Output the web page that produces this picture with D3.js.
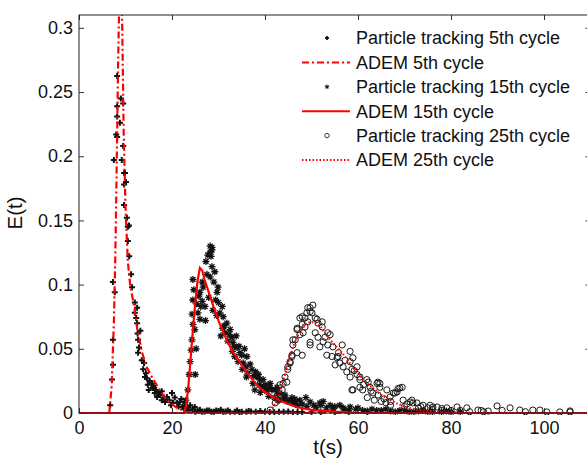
<!DOCTYPE html>
<html>
<head>
<meta charset="utf-8">
<script src="https://cdn.jsdelivr.net/npm/d3@7"></script>
<style>
body { margin: 0; background: #fff; }
text { font-family: Arial, "Liberation Sans", sans-serif; fill: #111; }
</style>
</head>
<body>
<script>
"use strict";

/* Data, [t (s), E(t)] */
var adem5 = [[0,0],[6.5,0],[7,0.02],[7.5,0.07],[7.8,0.12],[8.1,0.19],[8.4,0.27],[8.7,0.33],[9.0,0.35],
	[9.3,0.30],[9.6,0.22],[10.0,0.16],[10.5,0.118],[11,0.1],[12,0.08],[12.5,0.066],[13.5,0.048],
	[14.5,0.036],[16,0.026],[17.5,0.017],[19,0.01],[21,0.004],[23,0.001],[25,0],[110,0]];

var adem15 = [[0,0],[22.5,0],[23,0.005],[23.5,0.02],[24,0.042],[24.5,0.065],[25,0.086],[25.5,0.103],
	[26,0.113],[26.5,0.111],[27,0.104],[28,0.093],[29,0.082],[30,0.072],[31,0.063],[32,0.055],
	[33,0.048],[34.5,0.04],[36,0.032],[37.5,0.025],[39,0.019],[41,0.014],[43,0.01],[45,0.007],
	[47,0.0045],[50,0.0025],[55,0.001],[60,0],[110,0]];

var adem25 = [[0,0],[41,0],[42,0.006],[43,0.014],[44,0.026],[45,0.04],[46,0.051],[47,0.06],[48,0.066],
	[49,0.07],[50,0.071],[51,0.07],[52,0.067],[53,0.062],[54,0.057],[55,0.053],[56,0.049],[57,0.045],
	[58,0.04],[59,0.035],[60,0.031],[61,0.027],[62,0.023],[63,0.02],[64,0.017],[65,0.014],[66,0.012],
	[67,0.01],[68,0.008],[70,0.005],[72,0.003],[75,0.0015],[80,0.0005],[85,0],[110,0]];

var track5 = [[8.2,0.2625],[9.0,0.245],[8.2,0.239],[9.5,0.241],[8.2,0.231],[8.8,0.226],[8.0,0.217],
	[8.2,0.215],[9.5,0.208],[7.5,0.197],[9.2,0.197],[9.7,0.187],[9.9,0.187],[9.7,0.178],[10.1,0.18],
	[9.7,0.162],[10.3,0.152],[10.5,0.145],[10.75,0.146],[10.5,0.134],[10.8,0.122],[11.2,0.108],
	[11.4,0.098],[12.0,0.086],[12.5,0.082],[12.0,0.078],[12.3,0.074],[12.5,0.07],[12.7,0.057],
	[12.9,0.051],[12.7,0.047],[13.5,0.041],[14.0,0.039],[13.8,0.034],[14.2,0.028],[14.6,0.027],
	[14.8,0.022],[15.7,0.023],[15.9,0.0195],[16.3,0.0156],[16.8,0.0125],[17.4,0.014],[17.8,0.010],
	[18.5,0.0086],[18.9,0.0125],[20.0,0.0156],[20.2,0.008],[21.1,0.008],[21.7,0.0086],[22.2,0.0047],
	[22.8,0.0086],[23.2,0.0047],[23.9,0.006],[24.9,0.0047],
	[7.7,0.094],[7.3,0.102],[7.3,0.057],[7.3,0.0375],[7.1,0.026],[6.7,0.006],
	[13.2,0.064],[12.6,0.062],[14.4,0.031],[15.2,0.025],[15.0,0.018],[16.0,0.021],[16.6,0.018],
	[17.0,0.016],[17.8,0.017],[18.2,0.012],[19.4,0.01],[19.8,0.006],[20.6,0.012],[21.4,0.005],
	[22.0,0.011],[22.6,0.003],[23.6,0.002],[24.4,0.003],
	[25.5,0.002],[26.5,0.001],[27.5,0.002],[28.5,0.001],[29.5,0.002],[31,0.001],[32,0.002],
	[33.5,0.001],[35,0.001],[36.5,0.0015],[38,0.001],[40,0.001],[42,0.0005],[44,0.001],[46,0.0005],
	[48,0.0008],[50,0.0005],
	[25,0.001],[26,0.0025],[27,0.0012],[28,0.002],[29,0.001],[30,0.0015],[30.5,0.0025],[31.5,0.0012],
	[32.5,0.001],[34,0.002],[34.5,0.0008],[36,0.001],[37,0.0012],[39,0.0015],[41,0.0008],[43,0.001],
	[45,0.0012],[47,0.0008],[52,0.0006],[55,0.0005],[58,0.0005],[62,0.0004]];

var track15 = [[24.5,0.104],[24.7,0.096],[24.5,0.088],[24.3,0.077],[24.5,0.069],[24.3,0.057],[24.1,0.049],
	[23.9,0.04],[23.7,0.03],[23.4,0.018],[23.0,0.01],[22.8,0.006],
	[28.2,0.130],[28.6,0.129],[28.6,0.127],[28.2,0.125],[28.4,0.122],[27.7,0.123],[27.3,0.118],
	[28.6,0.114],[29.2,0.110],[28.2,0.106],[26.5,0.102],[26.7,0.098],[29.9,0.098],[29.7,0.094],
	[26.0,0.094],[26.5,0.087],[27.1,0.083],[30.8,0.083],[30.3,0.078],[31.0,0.075],[25.6,0.078],
	[26.0,0.073],[31.8,0.070],[32.5,0.065],[32.9,0.059],[31.4,0.0625],[33.1,0.055],[34.0,0.051],
	[34.6,0.047],[33.5,0.044],[36.1,0.044],[35.3,0.039],[35.1,0.034],[36.3,0.031],[38.3,0.028],
	[37.4,0.023],[39.6,0.026],[39.4,0.020],[41.1,0.023],[41.5,0.018],[42.6,0.020],[43.2,0.0156],
	[44.3,0.0125],[45.4,0.010],[46.0,0.0078],
	[38.9,0.026],[40.0,0.022],[41.1,0.020],[42.2,0.018],[44.3,0.014],[47.5,0.010],[49.7,0.0086],
	[51.8,0.0078],[54.0,0.006],[56.1,0.006],[58.3,0.0047],
	[27.5,0.108],[29.0,0.102],[27.9,0.09],[29.4,0.088],[28.8,0.08],[30.0,0.086],[27.2,0.072],
	[31.2,0.068],[30.5,0.06],[32.0,0.056],[33.8,0.06],[34.4,0.052],[33.0,0.048],[35.6,0.05],
	[34.2,0.04],[36.8,0.038],[37.2,0.034],[36.0,0.028],[38.0,0.032],[38.6,0.03],[37.8,0.018],
	[39.0,0.016],[40.4,0.017],[40.8,0.013],[42.0,0.012],[43.0,0.01],[44.8,0.009],[45.8,0.012],
	[46.6,0.009],[48.0,0.007],[48.8,0.012],[50.5,0.006],[52.5,0.009],[53.2,0.004],[55.0,0.005],
	[57.0,0.003],[59.5,0.003],[61,0.002],[63,0.003],[65,0.002],[67,0.0015],[69,0.002],[71,0.001],
	[73,0.0015],[75,0.001],[78,0.001],[80,0.0008],
	[25.0,0.03],[25.2,0.05],[24.9,0.065],[25.3,0.085],[25.8,0.091],[26.2,0.083],
	[29.6,0.076],[30.9,0.066],[32.3,0.061],[33.4,0.052],[35.0,0.045],[35.9,0.036],[37.6,0.029],
	[38.8,0.022],[40.2,0.019],[42.8,0.015],[44,0.011],[46.4,0.011],[47,0.006],[49,0.005],
	[51,0.004],[52,0.006],[54.6,0.003],[56.8,0.004],[58,0.002],[60,0.004],[62,0.0015],[64,0.002],
	[66,0.003],[68,0.001],[70,0.002],[72,0.001],[74,0.002],[76,0.001],[79,0.0015],[82,0.001]];

var track25 = [[47.5,0.074],[46.9,0.066],[46.5,0.057],[46.0,0.053],[45.8,0.045],[45.4,0.040],[44.9,0.036],
	[44.3,0.028],[43.9,0.023],[43.7,0.018],[43.2,0.014],[42.8,0.010],[42.2,0.0078],[41.1,0.0023],
	[44.7,0.024],[43.2,0.022],[44.9,0.034],[45.4,0.039],[45.8,0.044],[46.9,0.047],
	[50.3,0.084],[49.7,0.082],[49.0,0.078],[50.1,0.078],[48.0,0.075],[50.8,0.074],[49.2,0.071],
	[51.4,0.070],[48.0,0.069],[52.3,0.067],[46.9,0.065],[48.2,0.0625],[50.8,0.0625],[47.5,0.061],
	[51.4,0.059],[52.9,0.059],[54.0,0.061],[49.7,0.055],[52.5,0.0555],[51.8,0.0515],[53.5,0.053],
	[54.6,0.0515],[58.3,0.048],[53.3,0.045],[54.4,0.044],[55.5,0.043],[56.1,0.039],[58.9,0.043],
	[56.8,0.036],[55.1,0.0375],[57.6,0.032],[58.7,0.034],[58.3,0.028],[59.8,0.030],[60.4,0.026],
	[61.9,0.026],[58.9,0.018],[60.4,0.020],[62.6,0.020],[63.2,0.0156],[64.3,0.024],
	[49.2,0.082],[49.7,0.079],[48.6,0.074],[51.2,0.073],[52.3,0.071],[48.6,0.067],[46.0,0.057],
	[49.7,0.053],[48.0,0.045],[53.5,0.0625],[56.6,0.053],[55.7,0.044],[58.3,0.040],[59.8,0.036],
	[58.7,0.018],[60.4,0.028],[62.2,0.024],[64.1,0.023],[64.7,0.020],[64.3,0.014],[66.2,0.018],
	[68.0,0.0156],[68.6,0.019],[69.5,0.020],[66.9,0.0125],[69.7,0.010],[71.2,0.0086],[72.7,0.0078],
	[74.0,0.006],[75.5,0.006],[77.0,0.0047],[79.1,0.004],[81.3,0.0047],[83.4,0.004],[85.8,0.0023],
	[89.9,0.0055],[92.7,0.004],[94.8,0.0023],[97.6,0.0023],[100.6,0.0008],[103.4,0.0008],[105.6,0.0008],
	[64.7,0.023],[69.0,0.0195],[68.4,0.0164],[67.6,0.0156],[71.6,0.010],[71.8,0.0078],[76.1,0.0047],
	[99.1,0.0023],[105.6,0.0016],
	[61,0.018],[62,0.012],[63.5,0.01],[65,0.009],[66,0.008],[67,0.006],[70,0.005],[73,0.004],
	[76,0.003],[78,0.002],[80,0.002],[82,0.002],[84,0.001],[87,0.001],
	[55.8,0.047],[57.2,0.041],[59.2,0.033],[61.2,0.022],[62.8,0.017],[65.6,0.011],[67,0.009],
	[70.5,0.007],[73.5,0.005],[75,0.004],[78,0.0035],[86.5,0.002],[88,0.0015],[91,0.002],[96,0.001]];

var xTicks = [0, 20, 40, 60, 80, 100];
var yTicks = [0, 0.05, 0.1, 0.15, 0.2, 0.25, 0.3];
var yTickLabels = ["0", "0.05", "0.1", "0.15", "0.2", "0.25", "0.3"];
var legendLabels = ["Particle tracking 5th cycle", "ADEM 5th cycle", "Particle tracking 15th cycle",
	"ADEM 15th cycle", "Particle tracking 25th cycle", "ADEM 25th cycle"];

// marker shapes
var plusPath = "M-3,0H3M0,-3V3";
var starPath = "M-3.5,0H3.5M0,-3.5V3.5M-2.5,-2.5L2.5,2.5M-2.5,2.5L2.5,-2.5";

function drawChart() {
	var margin = {top: 15, left: 79};
	var width = 511.5, height = 398;

	var svg = d3.select("body").append("svg")
		.attr("width", 587)
		.attr("height", 461);

	var x = d3.scaleLinear().domain([0, 110]).range([0, width]);
	var y = d3.scaleLinear().domain([0, 0.31]).range([height, 0]);

	var g = svg.append("g")
		.attr("transform", "translate(" + margin.left + "," + margin.top + ")");

	g.append("clipPath").attr("id", "plotclip")
		.append("rect").attr("width", width).attr("height", height + 2);

	var plot = g.append("g").attr("clip-path", "url(#plotclip)");

	var line = d3.line()
		.x(function(d) { return x(d[0]); })
		.y(function(d) { return y(d[1]); });

	function markers(data, path, sw) {
		plot.append("g").selectAll("path")
			.data(data)
			.enter().append("path")
			.attr("transform", function(d) { return "translate(" + x(d[0]) + "," + y(d[1]) + ")"; })
			.attr("d", path)
			.attr("fill", "none")
			.attr("stroke", "#111")
			.attr("stroke-width", sw);
	}
	function circles(data) {
		plot.append("g").selectAll("circle")
			.data(data)
			.enter().append("circle")
			.attr("cx", function(d) { return x(d[0]); })
			.attr("cy", function(d) { return y(d[1]); })
			.attr("r", 3.1)
			.attr("fill", "none")
			.attr("stroke", "#1a1a1a")
			.attr("stroke-width", 1);
	}
	function curve(data, dash) {
		plot.append("path")
			.datum(data)
			.attr("d", line)
			.attr("fill", "none")
			.attr("stroke", "#f00")
			.attr("stroke-width", 2.2)
			.attr("stroke-dasharray", dash);
	}

	// same order as the legend
	markers(track5, plusPath, 2);
	curve(adem5, "7,3,2,3");
	markers(track15, starPath, 1.3);
	curve(adem15, null);
	circles(track25);
	curve(adem25, "1.5,2");

	// axes, ticks pointing inwards
	var xAxis = g.append("g").attr("transform", "translate(0," + height + ")")
		.call(d3.axisBottom(x).tickValues(xTicks).tickSizeInner(-5).tickSizeOuter(0).tickPadding(8));
	var xTop = g.append("g")
		.call(d3.axisTop(x).tickValues(xTicks).tickSizeInner(-5).tickSizeOuter(0).tickFormat(""));
	var yAxis = g.append("g")
		.call(d3.axisLeft(y).tickValues(yTicks).tickSizeInner(-5).tickSizeOuter(0).tickPadding(6)
			.tickFormat(function(d, i) { return yTickLabels[i]; }));
	var yRight = g.append("g").attr("transform", "translate(" + width + ",0)")
		.call(d3.axisRight(y).tickValues(yTicks).tickSizeInner(-5).tickSizeOuter(0).tickFormat(""));

	[xAxis, xTop, yAxis, yRight].forEach(function(a) {
		a.select(".domain").remove();
		a.selectAll("line").attr("stroke", "#333");
		a.selectAll("text").style("font-size", "18px").attr("fill", "#111");
	});

	g.append("rect")
		.attr("width", width).attr("height", height)
		.attr("fill", "none").attr("stroke", "#222").attr("stroke-width", 1);

	// axis titles
	svg.append("text")
		.attr("x", 328).attr("y", 454)
		.attr("text-anchor", "middle")
		.style("font-size", "20.5px")
		.text("t(s)");
	svg.append("text")
		.attr("transform", "translate(22,213) rotate(-90)")
		.attr("text-anchor", "middle")
		.style("font-size", "20.5px")
		.text("E(t)");

	// legend
	var legend = svg.append("g");
	var rowY = function(i) { return 38 + i * 24.4; };
	legendLabels.forEach(function(lbl, i) {
		var ly = rowY(i);
		if (i == 0) {
			legend.append("path").attr("transform", "translate(327," + ly + ")")
				.attr("d", "M-2,0L0,-2L2,0L0,2Z").attr("fill", "#111").attr("stroke", "#111").attr("stroke-width", 0.8);
		} else if (i == 2) {
			legend.append("path").attr("transform", "translate(327," + ly + ")")
				.attr("d", "M-2.2,0H2.2M0,-2.2V2.2M-1.6,-1.6L1.6,1.6M-1.6,1.6L1.6,-1.6")
				.attr("stroke", "#111").attr("stroke-width", 1);
		} else if (i == 4) {
			legend.append("circle").attr("cx", 327).attr("cy", ly).attr("r", 2.2)
				.attr("fill", "none").attr("stroke", "#222").attr("stroke-width", 0.9);
		} else {
			legend.append("line")
				.attr("x1", 302).attr("x2", 350).attr("y1", ly).attr("y2", ly)
				.attr("stroke", "#f00").attr("stroke-width", 2)
				.attr("stroke-dasharray", i == 1 ? "7,3,2,3" : (i == 5 ? "1.5,2" : null));
		}
		legend.append("text")
			.attr("x", 356).attr("y", ly).attr("dy", "0.35em")
			.style("font-size", "18px")
			.text(lbl);
	});
}

drawChart();
</script>
</body>
</html>
